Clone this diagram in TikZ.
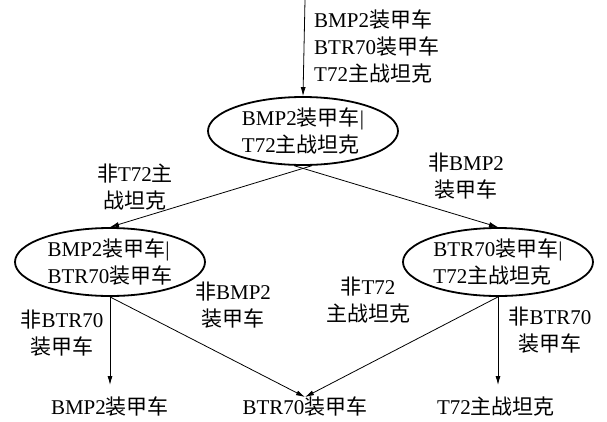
\documentclass[tikz,border=0pt]{standalone}
\usepackage{fontspec}
\setmainfont{Liberation Serif}
\newfontfamily\cjk{Noto Sans CJK SC}
\newcommand{\zh}[1]{{\cjk #1}}
\usetikzlibrary{shapes.geometric,arrows.meta}
\begin{document}
\begin{tikzpicture}[x=1pt,y=-1pt,
  every node/.style={font=\fontsize{21}{27}\selectfont},
  ell/.style={draw,ellipse,line width=1.8pt,minimum width=190pt,minimum height=68pt,inner sep=0pt,align=left},
  lbl/.style={align=center,inner sep=0pt},
  leaf/.style={inner sep=0pt},
  arr/.style={-{Latex[length=9pt,width=5pt]},line width=0.8pt}]
\useasboundingbox (0,0) rectangle (607,421);
\coordinate (src) at (305,0);
\node[ell] (top) at (303,131) {BMP2\zh{装甲车}|\\T72\zh{主战坦克}};
\node[ell] (left) at (110,262) {BMP2\zh{装甲车}|\\BTR70\zh{装甲车}};
\node[ell] (right) at (498,262) {BTR70\zh{装甲车}|\\T72\zh{主战坦克}};
\node[leaf] (b1) at (110,407) {BMP2\zh{装甲车}};
\node[leaf] (b2) at (305,407) {BTR70\zh{装甲车}};
\node[leaf] (b3) at (496,407) {T72\zh{主战坦克}};
\node[lbl,align=left,anchor=west] (l0) at (314,46) {BMP2\zh{装甲车}\\BTR70\zh{装甲车}\\T72\zh{主战坦克}};
\node[lbl] (l1) at (135,187) {\zh{非}T72\zh{主}\\\zh{战坦克}};
\node[lbl] (l2) at (466,176) {\zh{非}BMP2\\\zh{装甲车}};
\node[lbl] (l3) at (62,333) {\zh{非}BTR70\\\zh{装甲车}};
\node[lbl] (l4) at (233,305) {\zh{非}BMP2\\\zh{装甲车}};
\node[lbl] (l5) at (368,300) {\zh{非}T72\\\zh{主战坦克}};
\node[lbl] (l6) at (550,330) {\zh{非}BTR70\\\zh{装甲车}};
\draw[arr] (src) -- (top.north);
\draw[arr] (top.-76) -- (left.north);
\draw[arr] (top.-104) -- (right.north);
\draw[arr] (left.south) -- (left.south |- 0,385);
\draw[arr] (left.south) -- (b2.north);
\draw[arr] (right.south) -- (b2.north);
\draw[arr] (right.south) -- (right.south |- 0,385);
\end{tikzpicture}
\end{document}
